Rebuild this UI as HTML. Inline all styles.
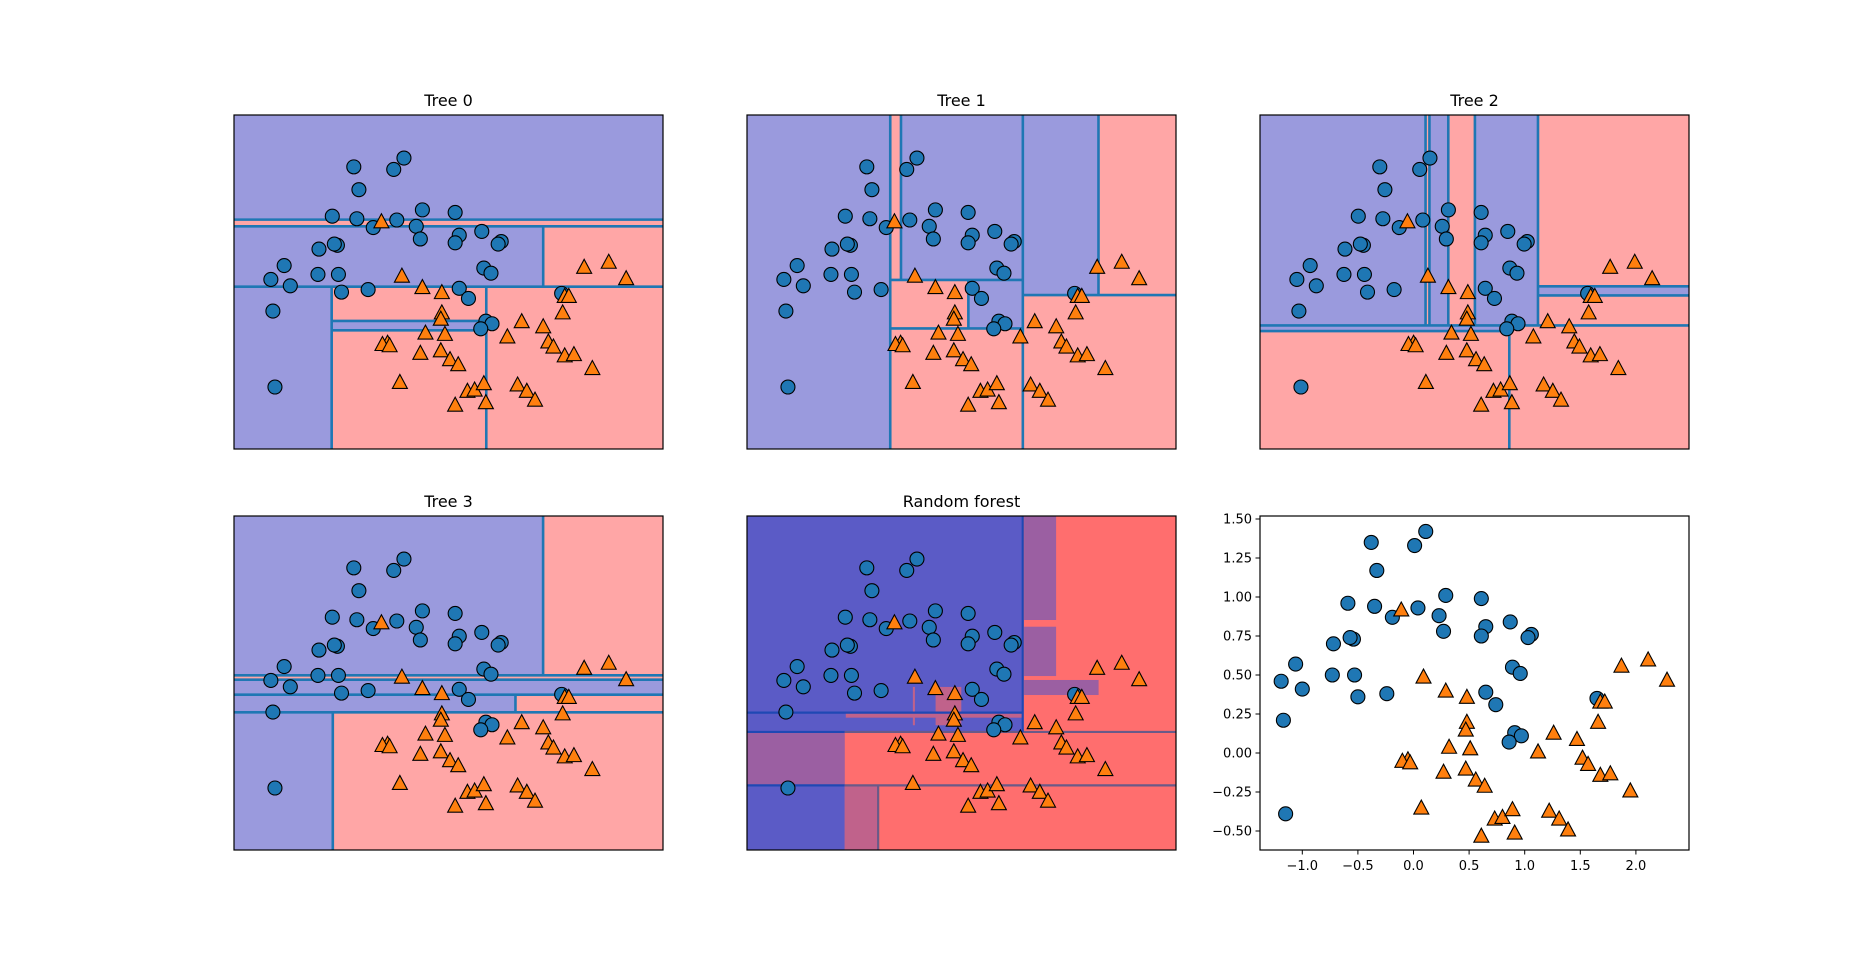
<!DOCTYPE html>
<html><head><meta charset="utf-8"><style>
html,body{margin:0;padding:0;background:#fff;}
svg{display:block;font-family:"DejaVu Sans","Liberation Sans",sans-serif;}
</style></head>
<body>
<svg id="fig" width="1875" height="955" viewBox="0 0 1875 955" xmlns="http://www.w3.org/2000/svg"></svg>
<script>
// ---- data (two moons) ----
const circlesX = [0.11,-0.38,0.01,-0.33,0.29,0.61,-0.59,-0.35,0.04,-0.19,0.23,0.27,0.87,0.65,0.61,1.06,1.03,-0.72,-0.54,-0.57,-1.06,-1.19,-1.0,-0.73,-0.53,-0.50,-0.24,0.89,0.96,0.65,0.74,-1.17,1.65,0.91,0.97,0.86,-1.15];
const circlesY = [1.42,1.35,1.33,1.17,1.01,0.99,0.96,0.94,0.93,0.87,0.88,0.78,0.84,0.81,0.75,0.76,0.74,0.70,0.73,0.74,0.57,0.46,0.41,0.50,0.50,0.36,0.38,0.55,0.51,0.39,0.31,0.21,0.35,0.13,0.11,0.07,-0.39];
const trianglesX = [-0.11,0.09,0.29,0.48,0.48,0.47,0.32,0.51,-0.05,-0.10,-0.03,0.27,0.47,0.56,0.64,0.07,0.61,0.73,0.80,0.89,0.91,1.12,1.26,1.47,1.52,1.57,1.68,1.77,1.95,1.22,1.31,1.39,1.66,1.68,1.72,1.87,2.11,2.28];
const trianglesY = [0.92,0.49,0.40,0.36,0.20,0.15,0.04,0.03,-0.04,-0.05,-0.06,-0.12,-0.10,-0.17,-0.21,-0.35,-0.53,-0.42,-0.41,-0.36,-0.51,0.01,0.13,0.09,-0.03,-0.07,-0.14,-0.13,-0.24,-0.37,-0.42,-0.49,0.20,0.33,0.33,0.56,0.60,0.47];

// plot extents for decision panels
const X0 = -1.55, X1 = 2.64, Y0 = -0.88, Y1 = 1.76;

// decision regions: [xmin, xmax, ymin, ymax, class]
const tree0Regions = [[X0,X1,0.933,Y1,0],[X0,X1,0.88,0.933,1],[X0,1.47,0.403,0.88,0],[1.47,X1,0.403,0.88,1],[X0,-0.596,Y0,0.403,0],[-0.596,X1,Y0,0.403,1],[-0.596,0.914,0.058,0.132,0]];
const tree0Lines = [[X0,0.933,X1,0.933],[X0,0.88,X1,0.88],[X0,0.403,X1,0.403],[-0.596,0.132,0.914,0.132],[-0.596,0.058,0.914,0.058],[1.47,0.403,1.47,0.88],[-0.596,Y0,-0.596,0.403],[0.914,Y0,0.914,0.403]];

const tree1Regions = [[X0,X1,Y0,Y1,1],[X0,-0.151,Y0,Y1,0],[-0.046,1.144,0.456,Y1,0],[0.612,1.144,0.073,0.456,0],[1.144,1.883,0.337,Y1,0]];
const tree1Lines = [[-0.151,Y0,-0.151,Y1],[-0.046,0.456,-0.046,Y1],[1.144,Y0,1.144,Y1],[1.883,0.337,1.883,Y1],[0.612,0.073,0.612,0.456],[-0.151,0.456,1.144,0.456],[-0.151,0.073,1.144,0.073],[1.144,0.337,X1,0.337]];

const tree2Regions = [[X0,X1,Y0,Y1,1],[X0,0.067,0.097,Y1,0],[0.105,0.289,0.097,Y1,0],[0.549,1.165,0.097,Y1,0],[1.165,X1,0.334,0.406,0],[X0,0.885,0.052,0.097,0]];
const tree2Lines = [[0.067,0.097,0.067,Y1],[0.105,0.097,0.105,Y1],[0.289,0.097,0.289,Y1],[0.549,0.097,0.549,Y1],[1.165,0.097,1.165,Y1],[0.885,Y0,0.885,0.052],[X0,0.097,X1,0.097],[X0,0.052,0.885,0.052],[1.165,0.406,X1,0.406],[1.165,0.334,X1,0.334]];

const tree3Regions = [[X0,X1,Y0,Y1,1],[X0,1.469,0.501,Y1,0],[X0,X1,0.348,0.466,0],[X0,1.199,0.208,0.348,0],[X0,-0.585,Y0,0.208,0]];
const tree3Lines = [[X0,0.501,X1,0.501],[X0,0.466,X1,0.466],[X0,0.348,X1,0.348],[X0,0.208,X1,0.208],[1.469,0.501,1.469,Y1],[-0.585,Y0,-0.585,0.208],[1.199,0.208,1.199,0.348]];

const forestRegions = [[X0,X1,Y0,Y1,1],[X0,1.143,0.053,Y1,0],[1.156,1.469,0.938,Y1,2],[1.156,1.469,0.495,0.885,2],[1.156,1.884,0.345,0.464,2],[X0,-0.595,-0.369,0.053,2],[X0,-0.595,Y0,-0.369,0],[-0.595,-0.269,Y0,-0.369,3],[-0.585,1.143,0.166,0.206,3],[0.292,0.543,0.106,0.409,3],[0.07,0.09,0.106,0.409,3]];
const forestLines = [[X0,0.053,-0.595,0.053,0],[-0.595,0.053,X1,0.053,1],[X0,-0.369,-0.595,-0.369,0],[-0.595,-0.369,X1,-0.369,1],[X0,0.206,1.143,0.206,0],[1.143,0.053,1.143,Y1,0],[-0.269,Y0,-0.269,-0.369,1]];

const treeColors = ["#9a9add","#ffa6a6"];
const forestColors = ["#5b5bc6","#ff6e6e","#9b5fa2","#c0628b"];
const forestLineColors = ["#1f48b4","#6a5a88"];

const xTicks = [-1.0,-0.5,0.0,0.5,1.0,1.5,2.0];
const xTickLabels = ["\u22121.0","\u22120.5","0.0","0.5","1.0","1.5","2.0"];
const yTicks = [-0.5,-0.25,0,0.25,0.5,0.75,1.0,1.25,1.5];
const yTickLabels = ["\u22120.50","\u22120.25","0.00","0.25","0.50","0.75","1.00","1.25","1.50"];

const NS = "http://www.w3.org/2000/svg";
const fig = document.getElementById('fig');
function mk(tag, attrs, parent){ const e=document.createElementNS(NS,tag); for(const k in attrs) e.setAttribute(k,attrs[k]); (parent||fig).appendChild(e); return e; }

const AW = 429, AH = 334;
const panels = [
  {x:234,y:115,title:"Tree 0",regions:tree0Regions,lines:tree0Lines,name:"tree-0"},
  {x:747,y:115,title:"Tree 1",regions:tree1Regions,lines:tree1Lines,name:"tree-1"},
  {x:1260,y:115,title:"Tree 2",regions:tree2Regions,lines:tree2Lines,name:"tree-2"},
  {x:234,y:516,title:"Tree 3",regions:tree3Regions,lines:tree3Lines,name:"tree-3"},
  {x:747,y:516,title:"Random forest",regions:forestRegions,lines:forestLines,name:"random-forest",forest:true}
];

function drawPoints(g, sx, sy){
  for(let i=0;i<circlesX.length;i++){
    const c = mk('circle',{cx:sx(circlesX[i]),cy:sy(circlesY[i]),r:7,fill:"#1f77b4",stroke:"#000","stroke-width":1.1},g);
    
    
  }
  for(let i=0;i<trianglesX.length;i++){
    const x=sx(trianglesX[i]), y=sy(trianglesY[i]);
    const t = mk('polygon',{points:`${x},${y-7.5} ${x-7.5},${y+6.5} ${x+7.5},${y+6.5}`,fill:"#ff7f0e",stroke:"#000","stroke-width":1.1,"stroke-linejoin":"miter"},g);
    
    
  }
}

panels.forEach((p,pi)=>{
  const sx = v => p.x + (v - X0)/(X1-X0)*AW;
  const sy = v => p.y + (Y1 - v)/(Y1-Y0)*AH;
  const g = mk('g',{});
  
  
  const cp = mk('clipPath',{id:'clip'+pi},g);
  mk('rect',{x:p.x,y:p.y,width:AW,height:AH},cp);
  const inner = mk('g',{'clip-path':`url(#clip${pi})`},g);
  const cols = p.forest ? forestColors : treeColors;
  p.regions.forEach(r=>{
    const x0=sx(r[0]), x1=sx(r[1]), y0=sy(r[3]), y1=sy(r[2]);
    const e = mk('rect',{x:x0,y:y0,width:x1-x0,height:y1-y0,fill:cols[r[4]]},inner);
    
    
  });
  p.lines.forEach(l=>{
    const col = p.forest ? forestLineColors[l[4]] : "#1f77b4";
    const e = mk('line',{x1:sx(l[0]),y1:sy(l[1]),x2:sx(l[2]),y2:sy(l[3]),stroke:col,"stroke-width":p.forest?2.2:2.6},inner);
    
    
  });
  drawPoints(inner, sx, sy);
  const fr = mk('rect',{x:p.x,y:p.y,width:AW,height:AH,fill:"none",stroke:"#000","stroke-width":1.2},g);
  
  
  const t = mk('text',{x:p.x+AW/2,y:p.y-9,"text-anchor":"middle","font-size":16,fill:"#000"},g);
  t.textContent = p.title;
  
  
});

// scatter panel
(function(){
  const px=1260, py=516;
  const sx = v => 1302.3 + (v + 1.0)*111.2;
  const sy = v => 519 + (1.5 - v)*156;
  const g = mk('g',{});
  
  
  mk('rect',{x:px,y:py,width:AW,height:AH,fill:"#fff"},g);
  drawPoints(g, sx, sy);
  const fr = mk('rect',{x:px,y:py,width:AW,height:AH,fill:"none",stroke:"#000","stroke-width":1.2},g);
  
  
  xTicks.forEach((v,i)=>{
    const x=sx(v);
    const tk = mk('line',{x1:x,y1:py+AH,x2:x,y2:py+AH+4.5,stroke:"#000","stroke-width":1},g);
    
    
    const t = mk('text',{x:x,y:py+AH+20,"text-anchor":"middle","font-size":13,fill:"#000"},g);
    t.textContent = xTickLabels[i];
    
    
  });
  yTicks.forEach((v,i)=>{
    const y=sy(v);
    const tk = mk('line',{x1:px-4.5,y1:y,x2:px,y2:y,stroke:"#000","stroke-width":1},g);
    
    
    const t = mk('text',{x:px-8,y:y+4.5,"text-anchor":"end","font-size":13,fill:"#000"},g);
    t.textContent = yTickLabels[i];
    
    
  });
})();
</script>
</body></html>
